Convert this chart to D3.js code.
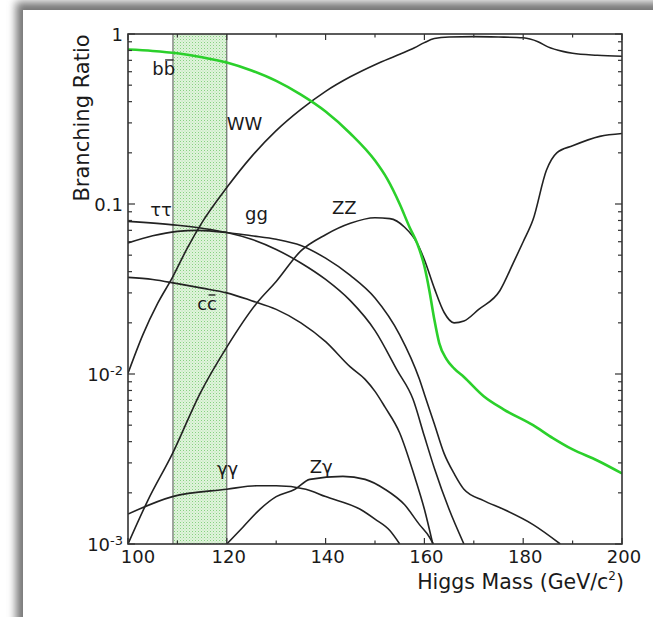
<!DOCTYPE html>
<html><head><meta charset="utf-8">
<script src="https://cdn.jsdelivr.net/npm/d3@7"></script>
<style>
html,body{margin:0;padding:0;background:#fff;}
svg{display:block;}
text{font-family:"DejaVu Sans","Open Sans",sans-serif;fill:#1a1a1a;}
</style></head>
<body>
<svg id="chart" width="653" height="617"></svg>
<script>
// ---------- data (mass in GeV/c^2, branching ratio) ----------
const bb = [[100,0.81],[105,0.795],[110,0.77],[115,0.73],[120,0.68],[125,0.61],[130,0.53],[135,0.44],[140,0.35],[145,0.26],[150,0.18],[152.5,0.14],[155,0.10],[157,0.073],[158.5,0.059],[160,0.043],[161,0.031],[162,0.021],[163,0.0152],[164.5,0.0122],[166,0.0108],[168,0.0096],[172,0.0074],[176,0.0062],[182,0.0050],[186,0.0042],[190,0.0036],[195,0.0031],[200,0.0026]];
const ww = [[100,0.0101],[103,0.017],[106,0.026],[109,0.037],[112,0.055],[115,0.078],[120,0.125],[125,0.19],[130,0.27],[135,0.36],[140,0.46],[145,0.56],[150,0.66],[155,0.76],[158,0.83],[160,0.89],[162,0.94],[165,0.96],[170,0.965],[175,0.96],[180,0.95],[183,0.9],[185,0.84],[188,0.79],[190,0.77],[195,0.75],[200,0.74]];
const zz = [[100,0.001],[104,0.0018],[109,0.0034],[114.6,0.0077],[120,0.0144],[126,0.026],[130,0.035],[135,0.053],[140,0.066],[145,0.077],[150,0.083],[153,0.082],[156,0.073],[158.5,0.059],[160,0.047],[162,0.032],[164,0.023],[166,0.020],[168,0.0205],[171,0.024],[175.3,0.031],[178,0.045],[180,0.06],[182,0.081],[184.7,0.158],[186.8,0.20],[190,0.22],[195.5,0.25],[200,0.26]];
const gg = [[100,0.059],[105,0.065],[110,0.069],[114,0.070],[120,0.068],[125,0.065],[130,0.062],[135,0.057],[140,0.048],[145,0.038],[150,0.028],[155,0.017],[159,0.0093],[160,0.0076],[162,0.0051],[164,0.0034],[166,0.0026],[168,0.0021],[172,0.0018],[176,0.0016],[182,0.0013],[187.5,0.001]];
const tautau = [[100,0.079],[110,0.075],[115,0.072],[120,0.068],[125,0.062],[130,0.054],[135,0.045],[140,0.036],[145,0.027],[150,0.018],[154.5,0.0105],[157.7,0.0071],[160,0.0043],[162,0.0028],[165,0.0016],[168,0.001]];
const cc = [[100,0.037],[105,0.036],[110,0.034],[115,0.032],[120,0.030],[125,0.027],[130,0.024],[135,0.020],[140,0.0155],[145,0.011],[148,0.0093],[150,0.0079],[152,0.0064],[155,0.0045],[158,0.0025],[160,0.0016],[161.7,0.001]];
const gamgam = [[100,0.0015],[109,0.0019],[120,0.0021],[126,0.0022],[130,0.0022],[136,0.0021],[140,0.0019],[147,0.0016],[150,0.0014],[153,0.0012],[155,0.001]];
const zgam = [[120,0.001],[123.3,0.00126],[126.7,0.0016],[130,0.0019],[133.8,0.0021],[136.8,0.0024],[143.5,0.0025],[148,0.0024],[152,0.0021],[156,0.0017],[159,0.0013],[161,0.0011],[161.8,0.001]];

const bandRange = [109.1, 120];              // shaded mass window
const xTickMajor = [100,120,140,160,180,200];
const xTickMinor = [110,130,150,170,190];
const yDecades = [0.001,0.01,0.1,1];
const yTickLabels = [["1",""],["0.1",""],["10","-2"],["10","-3"]];
const curveLabels = [
  {t:"b", bar:"b", m:104.9, br:0.574},
  {t:"WW", m:120, br:0.272},
  {t:"ττ", m:104.5, br:0.085},
  {t:"gg", m:123.7, br:0.0805},
  {t:"c", bar:"c", m:114, br:0.0238},
  {t:"ZZ", m:141.3, br:0.0873},
  {t:"γγ", m:118, br:0.00255},
  {t:"Zγ", m:136.8, br:0.00262}
];

// ---------- layout ----------
const svg = d3.select("#chart");
const L=128, R=622, T=34, B=544;
const x = d3.scaleLinear().domain([100,200]).range([L,R]);
const y = d3.scaleLog().domain([1e-3,1]).range([B,T]);

const defs = svg.append("defs");
const f = defs.append("filter").attr("id","shadow").attr("x","-20%").attr("y","-20%").attr("width","140%").attr("height","140%");
f.append("feGaussianBlur").attr("stdDeviation",4);
const pat = defs.append("pattern").attr("id","dots").attr("patternUnits","userSpaceOnUse").attr("width",3).attr("height",3);
pat.append("rect").attr("width",3).attr("height",3).attr("fill","#e0f3dc");
pat.append("rect").attr("width",1).attr("height",1).attr("fill","#86d27f");
pat.append("rect").attr("x",1.5).attr("y",1.5).attr("width",1).attr("height",1).attr("fill","#b4e4ae");
defs.append("clipPath").attr("id","plotclip").append("rect").attr("x",L).attr("y",T).attr("width",R-L).attr("height",B-T);

// card with shadow
svg.append("rect").attr("x",16).attr("y",2).attr("width",720).attr("height",720).attr("fill","#777").attr("filter","url(#shadow)");
svg.append("rect").attr("x",23).attr("y",10).attr("width",720).attr("height",720).attr("fill","#fff");

// band
svg.append("rect").attr("x",x(bandRange[0])).attr("y",T).attr("width",x(bandRange[1])-x(bandRange[0])).attr("height",B-T)
  .attr("fill","url(#dots)");
bandRange.forEach(m=>svg.append("line").attr("x1",x(m)).attr("x2",x(m)).attr("y1",T).attr("y2",B).attr("stroke","#555").attr("stroke-width",1));

// curves
const line = d3.line().x(d=>x(d[0])).y(d=>y(d[1])).curve(d3.curveMonotoneX);
const g = svg.append("g").attr("clip-path","url(#plotclip)");
[ww,zz,gg,tautau,cc,gamgam,zgam].forEach(s=>{
  g.append("path").attr("d",line(s)).attr("fill","none").attr("stroke","#222").attr("stroke-width",1.6);
});
g.append("path").attr("d",line(bb)).attr("fill","none").attr("stroke","#2bd02b").attr("stroke-width",2.6);

// ticks
const tk = svg.append("g").attr("stroke","#333").attr("stroke-width",1.2);
xTickMajor.forEach(m=>{
  tk.append("line").attr("x1",x(m)).attr("x2",x(m)).attr("y1",B).attr("y2",B-6);
  tk.append("line").attr("x1",x(m)).attr("x2",x(m)).attr("y1",T).attr("y2",T+6);
});
xTickMinor.forEach(m=>{
  tk.append("line").attr("x1",x(m)).attr("x2",x(m)).attr("y1",B).attr("y2",B-3.5);
  tk.append("line").attr("x1",x(m)).attr("x2",x(m)).attr("y1",T).attr("y2",T+3.5);
});
yDecades.forEach((d,i)=>{
  tk.append("line").attr("x1",L).attr("x2",L+7).attr("y1",y(d)).attr("y2",y(d));
  tk.append("line").attr("x1",R).attr("x2",R-7).attr("y1",y(d)).attr("y2",y(d));
  if(i<yDecades.length-1){
    for(let k=2;k<=9;k++){
      tk.append("line").attr("x1",L).attr("x2",L+4).attr("y1",y(d*k)).attr("y2",y(d*k));
      tk.append("line").attr("x1",R).attr("x2",R-4).attr("y1",y(d*k)).attr("y2",y(d*k));
    }
  }
});
svg.append("rect").attr("x",L).attr("y",T).attr("width",R-L).attr("height",B-T).attr("fill","none").attr("stroke","#333").attr("stroke-width",1.6);

// tick labels
xTickMajor.forEach((m,i)=>{
  svg.append("text").attr("x",x(m)+(i===0?10:2)).attr("y",563).attr("text-anchor","middle").attr("font-size",18).text(m);
});
[1,0.1,0.01,0.001].forEach((d,i)=>{
  const t = svg.append("text").attr("x",123).attr("y",y(d)+6.5).attr("text-anchor","end").attr("font-size",18);
  t.append("tspan").text(yTickLabels[i][0]);
  if(yTickLabels[i][1]) t.append("tspan").attr("font-size",13).attr("dy",-6).text(yTickLabels[i][1]);
});

// axis titles
const xt = svg.append("text").attr("x",624).attr("y",589).attr("text-anchor","end").attr("font-size",20.5);
xt.append("tspan").text("Higgs Mass (GeV/c");
xt.append("tspan").attr("font-size",12).attr("dy",-9).text("2");
xt.append("tspan").attr("dy",9).text(")");
svg.append("text").attr("transform","translate(89,118) rotate(-90)").attr("text-anchor","middle").attr("font-size",21).text("Branching Ratio");

// curve labels
curveLabels.forEach(c=>{
  const t = svg.append("text").attr("x",x(c.m)).attr("y",y(c.br)).attr("font-size",18).text(c.t+(c.bar||""));
  if(c.bar){
    const node=t.node();
    const s=node.getStartPositionOfChar(1), w=node.getSubStringLength(1,1);
    const bb2=node.getBBox();
    svg.append("line").attr("x1",s.x+1.5).attr("x2",s.x+w-1.5).attr("y1",bb2.y+2).attr("y2",bb2.y+2).attr("stroke","#1a1a1a").attr("stroke-width",1.3);
  }
});
</script>
</body></html>
